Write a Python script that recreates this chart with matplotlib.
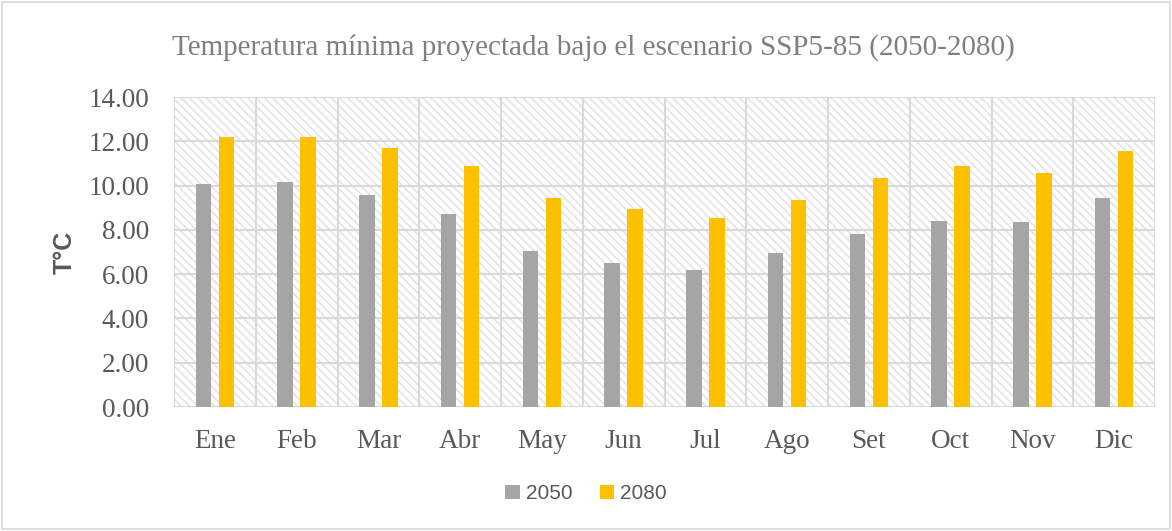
import matplotlib.pyplot as plt
import numpy as np
from matplotlib.patches import Rectangle

meses = ["Ene", "Feb", "Mar", "Abr", "May", "Jun", "Jul", "Ago", "Set", "Oct", "Nov", "Dic"]
t2050 = [10.07, 10.16, 9.58, 8.72, 7.05, 6.50, 6.19, 6.96, 7.81, 8.40, 8.36, 9.44]
t2080 = [12.19, 12.19, 11.70, 10.89, 9.44, 8.94, 8.54, 9.35, 10.34, 10.89, 10.57, 11.56]
yticks = np.arange(0, 14.01, 2)

gris = "#595959"
plt.rcParams['hatch.linewidth'] = 1.2

fig = plt.figure(figsize=(11.72, 5.31), dpi=100)
fig.patches.append(Rectangle((0.002, 0.004), 0.996, 0.992, transform=fig.transFigure,
                             fill=False, edgecolor="#d9d9d9", linewidth=1.2))
ax = fig.add_axes([0.1485, 0.2335, 0.837, 0.5835])

x = np.arange(len(meses))
ax.set_xlim(-0.5, len(meses) - 0.5)
ax.set_ylim(0, 14)

# fondo rayado
ax.add_patch(Rectangle((-0.5, 0), len(meses), 14, facecolor="white", edgecolor="#e4e4e4",
                       linewidth=0, hatch="\\\\\\\\", zorder=0.5))
for yy in yticks:
    ax.axhline(yy, color="#d9d9d9", lw=1.5, zorder=1)
for xx in np.arange(-0.5, len(meses), 1):
    ax.axvline(xx, color="#d9d9d9", lw=1.5, zorder=1)

ax.bar(x - 0.14, t2050, width=0.19, color="#a5a5a5", label="2050", zorder=3)
ax.bar(x + 0.14, t2080, width=0.19, color="#ffc000", label="2080", zorder=3)

for s in ax.spines.values():
    s.set_visible(False)
ax.set_xticks(x)
ax.set_xticklabels(meses, family="Liberation Serif", fontsize=19.5, color=gris)
ax.set_yticks(yticks)
ax.set_yticklabels([f"{v:.2f}" for v in yticks], family="Liberation Serif", fontsize=19.5, color=gris)
ax.tick_params(length=0, pad=18)
ax.tick_params(axis="x", pad=16)

ax.set_ylabel("T°C", family="Liberation Sans", fontweight="bold", fontsize=18, color=gris, labelpad=8)
fig.text(0.506, 0.91, "Temperatura mínima proyectada bajo el escenario SSP5-85 (2050-2080)",
         ha="center", va="center", family="Liberation Serif", fontsize=21, color="#7f7f7f")

fig.legend(loc="center", bbox_to_anchor=(0.5, 0.07), ncol=2, frameon=False,
           prop={"family": "Liberation Sans", "size": 15}, labelcolor=gris,
           handlelength=0.7, handleheight=0.7, handletextpad=0.3, columnspacing=1.3)

fig.savefig("out.png", dpi=100)
